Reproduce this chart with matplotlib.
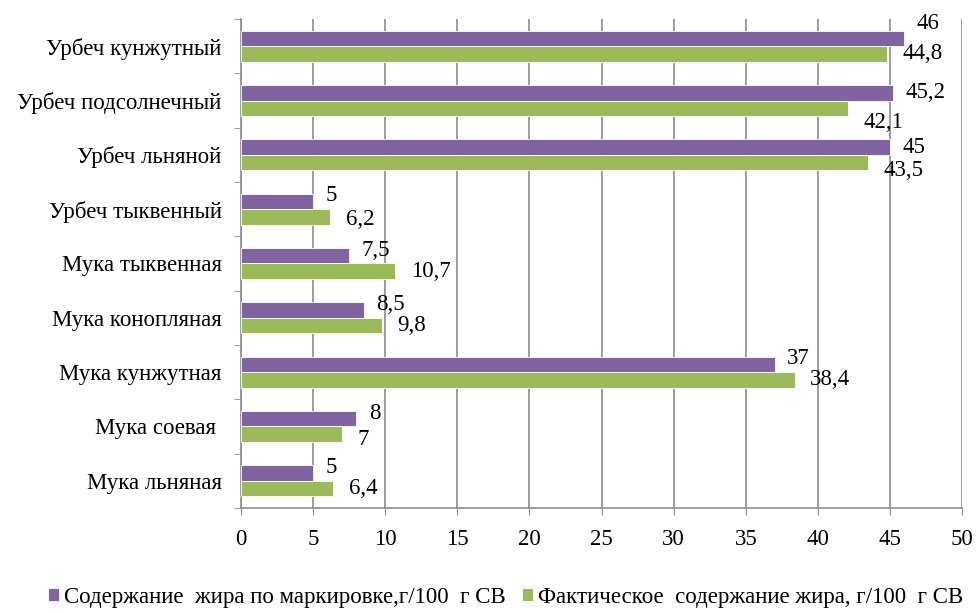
import numpy as np
import matplotlib.pyplot as plt

plt.rcParams['font.family'] = ['Liberation Serif', 'DejaVu Serif']

products = ['Урбеч кунжутный', 'Урбеч подсолнечный', 'Урбеч льняной', 'Урбеч тыквенный',
            'Мука тыквенная', 'Мука конопляная', 'Мука кунжутная', 'Мука соевая ', 'Мука льняная']
labelled = [46, 45.2, 45, 5, 7.5, 8.5, 37, 8, 5]
actual = [44.8, 42.1, 43.5, 6.2, 10.7, 9.8, 38.4, 7, 6.4]
series_names = ['Содержание  жира по маркировке,г/100  г СВ',
                'Фактическое  содержание жира, г/100  г СВ']

# small vertical nudges (points) for the value labels, to keep them clear of the bars
dy_labelled = [11, 0, 0, 4, 4, 4, 4, 4, 4]
dy_actual = [0, -10, -6, -2, 0, 0, 0, -4, 0]

purple = '#8064A2'
green = '#9BBB59'
grid = '#8C8C8C'
fs = 16.5

fig = plt.figure(figsize=(9.76, 6.13), dpi=100)
ax = fig.add_axes([0.247, 0.1713, 0.7387, 0.7977])

y = np.arange(len(products))
h = 0.285
ax.barh(y - h / 2, labelled, height=h, color=purple, edgecolor='white', linewidth=0.6,
        label=series_names[0], zorder=3)
ax.barh(y + h / 2, actual, height=h, color=green, edgecolor='white', linewidth=0.6,
        label=series_names[1], zorder=3)

def fmt(v):
    s = ('%g' % v).replace('.', ',')
    return s

for i in range(len(products)):
    ax.annotate(fmt(labelled[i]), (labelled[i], y[i] - h / 2), xytext=(9, dy_labelled[i]),
                textcoords='offset points', ha='left', va='center', fontsize=fs)
    ax.annotate(fmt(actual[i]), (actual[i], y[i] + h / 2), xytext=(11, dy_actual[i]),
                textcoords='offset points', ha='left', va='center', fontsize=fs)

ax.set_xlim(0, 50)
ax.set_xticks(np.arange(0, 51, 5))
ax.set_ylim(len(products) - 0.5, -0.5)
ax.set_yticks(y)
ax.set_yticklabels(products)
ax.set_yticks(np.arange(-0.5, len(products), 1), minor=True)
ax.tick_params(axis='y', which='major', length=0, pad=14, labelsize=fs)
ax.tick_params(axis='y', which='minor', length=5, color=grid, direction='out')
ax.tick_params(axis='x', length=5, color=grid, labelsize=fs, pad=10)

ax.xaxis.grid(True, color=grid, linewidth=1.2, zorder=0)
for side in ['top', 'right']:
    ax.spines[side].set_visible(False)
for side in ['left', 'bottom']:
    ax.spines[side].set_color(grid)
    ax.spines[side].set_linewidth(1.2)

fig.legend(loc='lower center', bbox_to_anchor=(0.518, -0.025), ncol=2, frameon=False,
           fontsize=fs, handlelength=0.5, handleheight=0.5, handletextpad=0.2,
           columnspacing=0.7)

fig.savefig('out.png', dpi=100)
